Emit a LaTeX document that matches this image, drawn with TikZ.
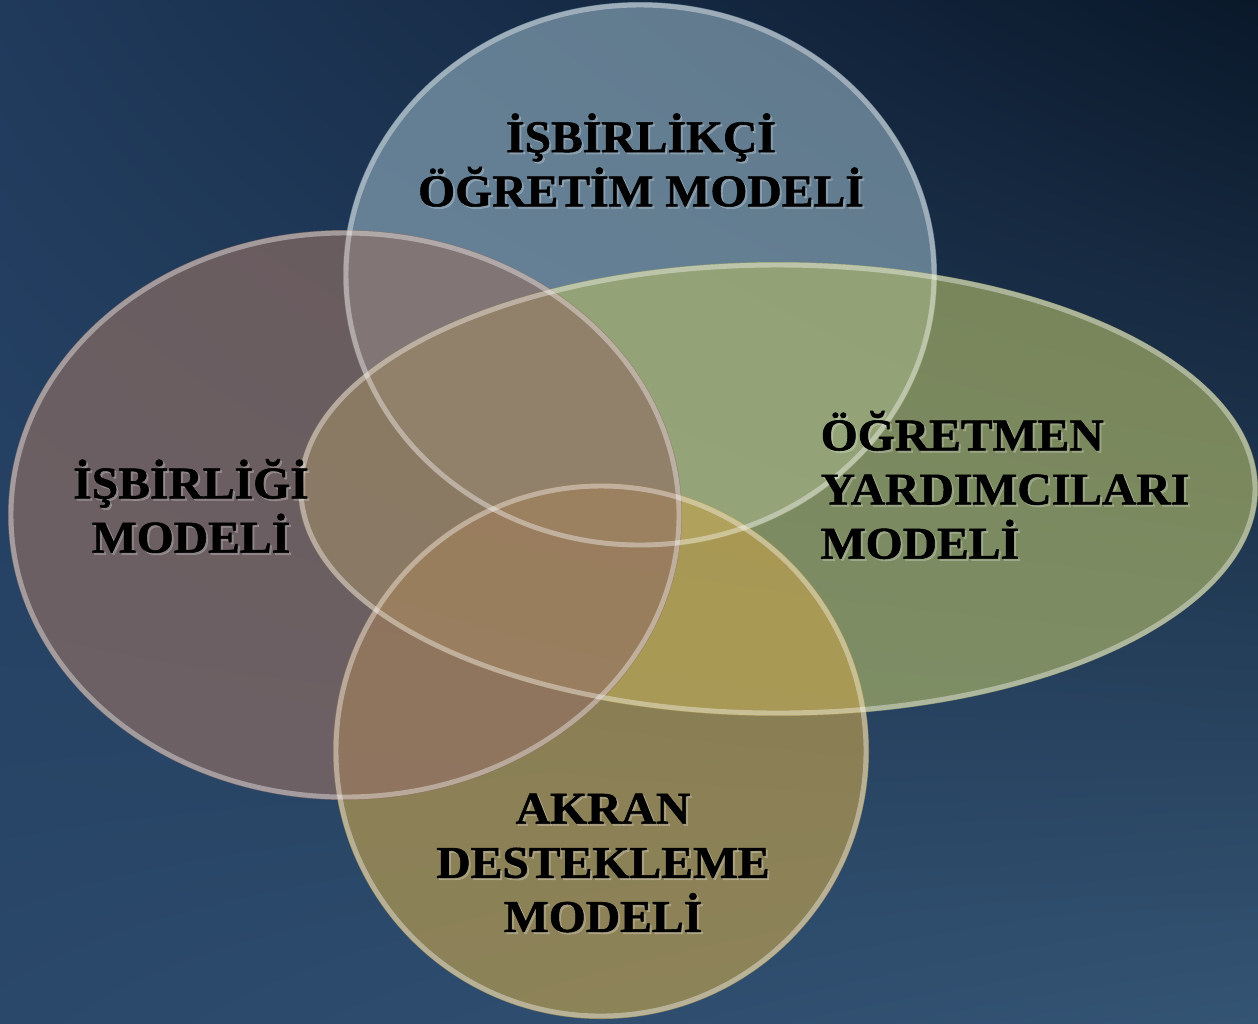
\documentclass[tikz,border=0pt]{standalone}
\usepackage{fontspec}
\newfontfamily\labelfont[FakeStretch=1.05,BoldFeatures={FakeBold=1.2}]{Liberation Serif}
\usetikzlibrary{shadings}

\definecolor{bgtl}{RGB}{32,58,92}
\definecolor{bgtr}{RGB}{10,24,42}
\definecolor{bgbl}{RGB}{42,72,106}
\definecolor{bgbr}{RGB}{52,84,116}
\definecolor{topfill}{RGB}{140,168,185}
\definecolor{rightfill}{RGB}{173,182,104}
\definecolor{bottomfill}{RGB}{192,160,78}
\definecolor{leftfill}{RGB}{146,112,100}

\begin{document}
\begin{tikzpicture}[x=0.1mm,y=-0.1mm,
  disc/.style={fill opacity=0.65},
  rim/.style={draw=white,draw opacity=0.38,line width=1.4pt},
  modeltext/.style={font=\labelfont\bfseries\fontsize{12.9}{15.4}\selectfont,text=black,inner sep=0pt},
  glowtext/.style={modeltext,text=white,text opacity=0.22}]
  \useasboundingbox (0,0) rectangle (1258,1023);
  \clip (0,0) rectangle (1258,1023);
  % background
  \shade[upper left=bgtl,upper right=bgtr,lower left=bgbl,lower right=bgbr] (0,0) rectangle (1258,1023);

  % the four models
  \fill[topfill,disc] (640,275) ellipse (297 and 273);
  \fill[rightfill,disc] (778,489) ellipse (480 and 227);
  \fill[bottomfill,disc] (601,751) ellipse (268 and 268);
  \fill[leftfill,disc] (345,515) ellipse (337 and 285);

  \draw[rim] (640,275) ellipse (294 and 270);
  \draw[rim] (778,489) ellipse (477 and 224);
  \draw[rim] (601,751) ellipse (265 and 265);
  \draw[rim] (345,515) ellipse (334 and 282);

  % labels
  \node[glowtext,align=center] (isbirlikci-glow) at (643,162) {İŞBİRLİKÇİ\\ÖĞRETİM MODELİ};
  \node[modeltext,align=center] (isbirlikci) at (641,160) {İŞBİRLİKÇİ\\ÖĞRETİM MODELİ};

  \node[glowtext,align=center] (isbirligi-glow) at (193,508) {İŞBİRLİĞİ\\MODELİ};
  \node[modeltext,align=center] (isbirligi) at (191,506) {İŞBİRLİĞİ\\MODELİ};

  \node[glowtext,align=left,anchor=west] (yardimcilari-glow) at (822,487) {ÖĞRETMEN\\YARDIMCILARI\\MODELİ};
  \node[modeltext,align=left,anchor=west] (yardimcilari) at (820,485) {ÖĞRETMEN\\YARDIMCILARI\\MODELİ};

  \node[glowtext,align=center] (akran-glow) at (605,865) {AKRAN\\DESTEKLEME\\MODELİ};
  \node[modeltext,align=center] (akran) at (603,863) {AKRAN\\DESTEKLEME\\MODELİ};
\end{tikzpicture}
\end{document}
